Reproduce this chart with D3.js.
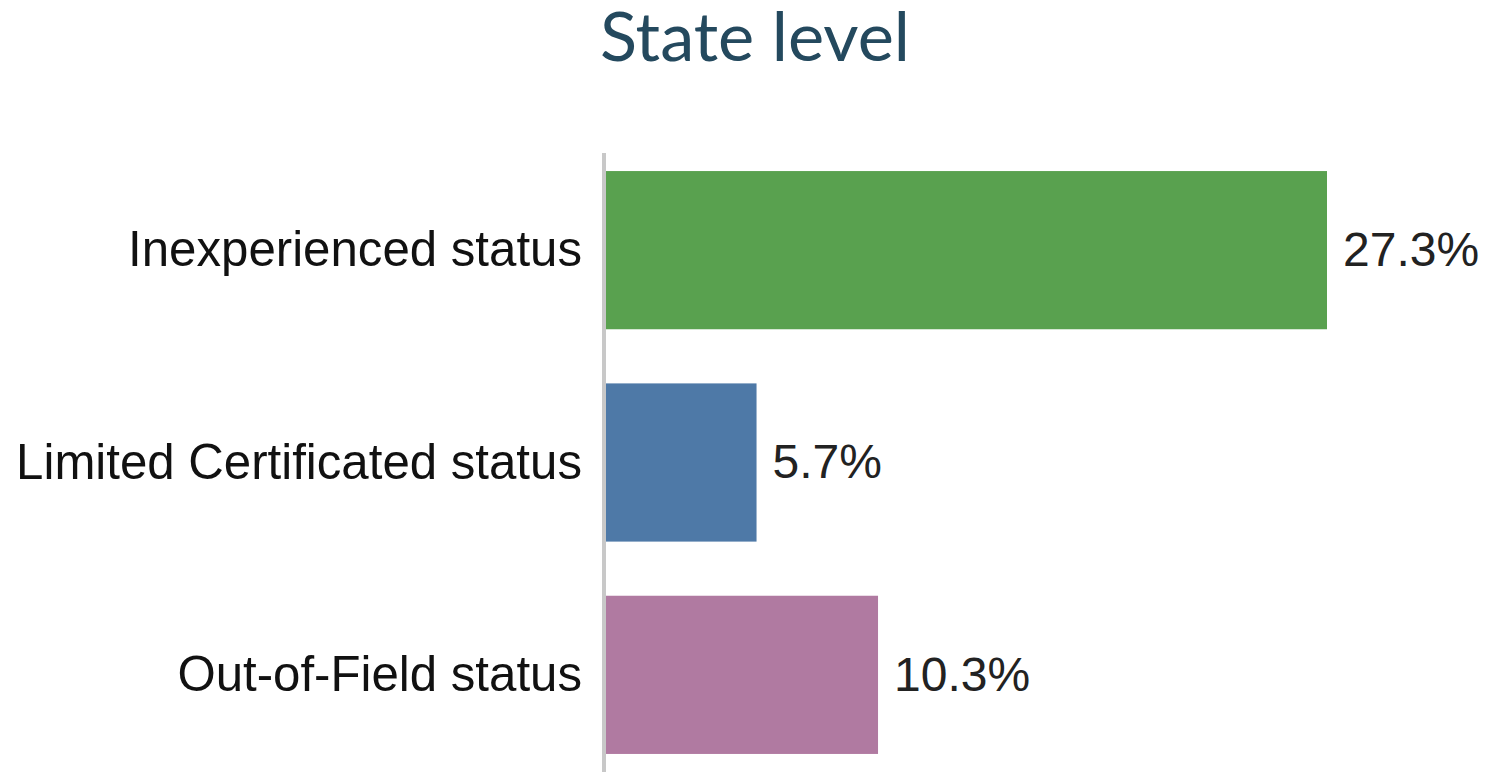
<!DOCTYPE html>
<html>
<head>
<meta charset="utf-8">
<script src="https://cdn.jsdelivr.net/npm/d3@7"></script>
<style>
html,body{margin:0;padding:0;background:#fff;}
svg{display:block;}
</style>
</head>
<body>
<svg id="chart" width="1486" height="772"></svg>
<script>
const title = "State level";
const categories = ["Inexperienced status", "Limited Certificated status", "Out-of-Field status"];
const values = [27.3, 5.7, 10.3];
const valueLabels = ["27.3%", "5.7%", "10.3%"];
const colors = ["#59A14F", "#4E79A7", "#B07AA1"];

const svg = d3.select("#chart");
const W = 1486, H = 772;

const x = d3.scaleLinear().domain([0, 27.3]).range([606, 1327]);
const y = d3.scaleBand().domain(categories).range([144, 781])
  .paddingInner(0.255).paddingOuter(0.1274);

// title
const t = svg.append("text")
  .attr("x", 755).attr("y", 61)
  .attr("text-anchor", "middle")
  .attr("font-family", "Lato, 'Open Sans', sans-serif")
  .attr("font-size", 68)
  .attr("fill", "#24495E")
  .text(title);
const tw = t.node().getComputedTextLength();
t.attr("font-size", 68 * 310 / tw);

// bars
svg.append("g").selectAll("rect")
  .data(categories)
  .join("rect")
  .attr("x", x(0))
  .attr("y", d => y(d))
  .attr("width", (d, i) => x(values[i]) - x(0))
  .attr("height", y.bandwidth())
  .attr("fill", (d, i) => colors[i]);

// axis line
svg.append("line")
  .attr("x1", 604).attr("x2", 604)
  .attr("y1", 153).attr("y2", H)
  .attr("stroke", "#c8c8c8").attr("stroke-width", 4);

// category labels
svg.append("g").selectAll("text")
  .data(categories)
  .join("text")
  .attr("x", 582)
  .attr("y", d => y(d) + y.bandwidth() / 2)
  .attr("dy", "0.33em")
  .attr("text-anchor", "end")
  .attr("font-family", "'Liberation Sans', Arial, sans-serif")
  .attr("font-size", 49.2)
  .attr("fill", "#111")
  .text(d => d);

// value labels
svg.append("g").selectAll("text")
  .data(categories)
  .join("text")
  .attr("x", (d, i) => x(values[i]) + 16)
  .attr("y", d => y(d) + y.bandwidth() / 2)
  .attr("dy", "0.33em")
  .attr("text-anchor", "start")
  .attr("font-family", "'Liberation Sans', Arial, sans-serif")
  .attr("font-size", 48)
  .attr("fill", "#222")
  .text((d, i) => valueLabels[i]);
</script>
</body>
</html>
